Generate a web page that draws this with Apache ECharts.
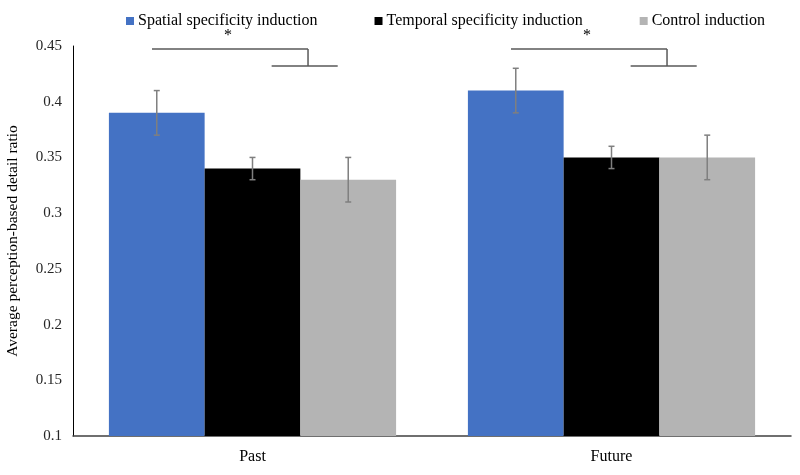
<!DOCTYPE html>
<html>
<head>
<meta charset="utf-8">
<script src="https://cdn.jsdelivr.net/npm/echarts@6/dist/echarts.min.js"></script>
<style>html,body{margin:0;padding:0;background:#fff}#c{width:800px;height:475px}</style>
</head>
<body>
<div id="c"></div>
<script>
const categories = ['Past', 'Future'];
const seriesNames = ['Spatial specificity induction', 'Temporal specificity induction', 'Control induction'];
const spatial = [0.39, 0.41];
const temporal = [0.34, 0.35];
const control = [0.33, 0.35];
const spatialErr = [0.02, 0.02];
const temporalErr = [0.01, 0.01];
const controlErr = [0.02, 0.02];
const yTicks = { min: 0.1, max: 0.45, interval: 0.05 };
const significance = ['*', '*'];

const FONT = '"Liberation Serif", "Times New Roman", serif';
const colors = ['#4472C4', '#000000', '#B4B4B4'];
const values = [spatial, temporal, control];
const errs = [spatialErr, temporalErr, controlErr];

const chart = echarts.init(document.getElementById('c'), null, { renderer: 'canvas' });

function errSeries(si) {
  const data = categories.map((c, i) => [i, values[si][i] - errs[si][i], values[si][i] + errs[si][i]]);
  return {
    type: 'custom',
    name: seriesNames[si] + ' err',
    z: 10,
    silent: true,
    data: data,
    encode: { x: 0, y: [1, 2] },
    renderItem: function (params, api) {
      const band = api.size([1, 0])[0];
      const bw = band * 0.8 / 3;
      const off = (si - 1) * bw;
      const lo = api.coord([api.value(0), api.value(1)]);
      const hi = api.coord([api.value(0), api.value(2)]);
      const x = lo[0] + off;
      const cap = 3;
      const st = { stroke: '#7F7F7F', lineWidth: 1.5 };
      return {
        type: 'group',
        children: [
          { type: 'line', shape: { x1: x, y1: lo[1], x2: x, y2: hi[1] }, style: st },
          { type: 'line', shape: { x1: x - cap, y1: lo[1], x2: x + cap, y2: lo[1] }, style: st },
          { type: 'line', shape: { x1: x - cap, y1: hi[1], x2: x + cap, y2: hi[1] }, style: st }
        ]
      };
    }
  };
}

const bracketSeries = {
  type: 'custom',
  name: 'brackets',
  z: 10,
  silent: true,
  data: categories.map((c, i) => [i]),
  encode: { x: 0 },
  renderItem: function (params, api) {
    const i = api.value(0);
    const band = api.size([1, 0])[0];
    const bw = band * 0.8 / 3;
    const c = api.coord([i, yTicks.min])[0];
    const yTop = api.coord([i, 0.4473])[1];
    const yLow = api.coord([i, 0.432])[1];
    const yStar = api.coord([i, 0.459])[1];
    const st = { stroke: '#595959', lineWidth: 1.5 };
    const xEnd = c + 0.58 * bw;
    return {
      type: 'group',
      children: [
        { type: 'line', shape: { x1: c - 1.05 * bw, y1: yTop, x2: xEnd, y2: yTop }, style: st },
        { type: 'line', shape: { x1: xEnd, y1: yTop, x2: xEnd, y2: yLow }, style: st },
        { type: 'line', shape: { x1: c + 0.2 * bw, y1: yLow, x2: c + 0.89 * bw, y2: yLow }, style: st },
        { type: 'text', x: c - 0.255 * bw, y: yStar, style: { text: significance[i], fill: '#000', font: '16px ' + FONT, align: 'center', verticalAlign: 'middle' } }
      ]
    };
  }
};

const option = {
  animation: false,
  backgroundColor: '#fff',
  textStyle: { fontFamily: FONT },
  legend: {
    data: seriesNames,
    left: 121,
    top: 8,
    itemWidth: 8,
    itemHeight: 8,
    itemGap: 57,
    icon: 'rect',
    textStyle: { fontFamily: FONT, fontSize: 16, color: '#000', padding: [0, 0, 0, -1] }
  },
  grid: { left: 73, right: 9, top: 46, bottom: 39, containLabel: false, outerBoundsMode: 'none' },
  xAxis: {
    type: 'category',
    data: categories,
    axisLine: { show: true, lineStyle: { color: '#404040', width: 1.5 } },
    axisTick: { show: false },
    axisLabel: { fontFamily: FONT, fontSize: 16, color: '#000', margin: 13 }
  },
  yAxis: {
    type: 'value',
    min: yTicks.min,
    max: yTicks.max,
    interval: yTicks.interval,
    name: 'Average perception-based detail ratio',
    nameLocation: 'middle',
    nameGap: 52,
    nameTextStyle: { fontFamily: FONT, fontSize: 15.5, color: '#000' },
    axisLine: { show: true, lineStyle: { color: '#000', width: 1 } },
    axisTick: { show: false },
    splitLine: { show: false },
    axisLabel: { fontFamily: FONT, fontSize: 15, color: '#262626', margin: 11 }
  },
  series: [
    ...seriesNames.map((n, si) => ({
      type: 'bar',
      name: n,
      data: values[si],
      barGap: '0%',
      barCategoryGap: '20%',
      itemStyle: { color: colors[si] }
    })),
    errSeries(0), errSeries(1), errSeries(2),
    bracketSeries
  ]
};
chart.setOption(option);
</script>
</body>
</html>
